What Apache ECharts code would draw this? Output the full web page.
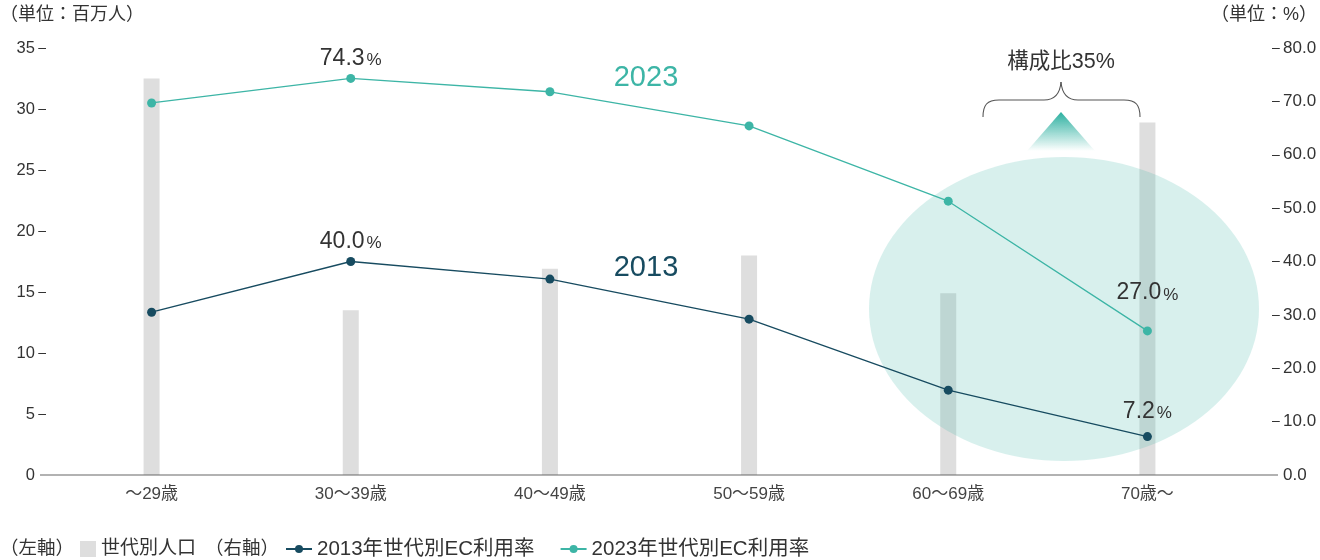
<!DOCTYPE html>
<html>
<head>
<meta charset="utf-8">
<script src="https://cdn.jsdelivr.net/npm/echarts@6/dist/echarts.min.js"></script>
<style>
  html, body { margin: 0; padding: 0; background: #fff; }
  #chart { width: 1320px; height: 560px; }
</style>
</head>
<body>
<div id="chart"></div>
<script>
// Age groups on the x axis
const categories = ['～29歳', '30～39歳', '40～49歳', '50～59歳', '60～69歳', '70歳～'];
// Population by age group (millions, left axis)
const population = [32.5, 13.5, 16.9, 18.0, 14.9, 28.9];
// EC usage rate by age group (%, right axis)
const ec2013 = [30.5, 40.0, 36.7, 29.2, 15.9, 7.2];
const ec2023 = [69.7, 74.3, 71.8, 65.4, 51.3, 27.0];
// Axis ticks
const leftTicks = { min: 0, max: 35, interval: 5 };
const rightTicks = { min: 0, max: 80, interval: 10 };
// Points whose values are written on the chart
const labelled = [1, 5];

const FONT = '"Liberation Sans", "Noto Sans CJK JP", sans-serif';
const TEXT = '#333';
const C2013 = '#174b60';
const C2023 = '#3db5a6';
const BAR = '#dedede';
const LEGEND_Y = 549;

const chart = echarts.init(document.getElementById('chart'), null, { renderer: 'canvas' });

function valueRich() {
  return {
    n: { fontSize: 23, color: TEXT, fontFamily: FONT },
    p: { fontSize: 17, color: TEXT, fontFamily: FONT, padding: [4, 0, 0, 2] }
  };
}

function lineData(values, distances) {
  return values.map((v, i) => {
    const item = { value: v };
    if (labelled.includes(i)) {
      item.label = {
        show: true,
        position: 'top',
        distance: distances[labelled.indexOf(i)],
        formatter: p => `{n|${p.value.toFixed(1)}}{p|%}`,
        rich: valueRich()
      };
    }
    return item;
  });
}

// curly brace drawn from curves and straight pieces
const BRACE = { stroke: '#555', lineWidth: 1.1, fill: null };
function braceParts() {
  return [
    { type: 'bezierCurve', z: 3, shape: { x1: 983, y1: 117, cpx1: 983, cpy1: 105, cpx2: 987, cpy2: 100, x2: 999, y2: 100 }, style: BRACE },
    { type: 'line', z: 3, shape: { x1: 999, y1: 100, x2: 1044, y2: 100 }, style: BRACE },
    { type: 'bezierCurve', z: 3, shape: { x1: 1044, y1: 100, cpx1: 1055, cpy1: 100, cpx2: 1060, cpy2: 94, x2: 1061, y2: 82 }, style: BRACE },
    { type: 'bezierCurve', z: 3, shape: { x1: 1061, y1: 82, cpx1: 1062, cpy1: 94, cpx2: 1067, cpy2: 100, x2: 1078, y2: 100 }, style: BRACE },
    { type: 'line', z: 3, shape: { x1: 1078, y1: 100, x2: 1124, y2: 100 }, style: BRACE },
    { type: 'bezierCurve', z: 3, shape: { x1: 1124, y1: 100, cpx1: 1136, cpy1: 100, cpx2: 1140, cpy2: 105, x2: 1140, y2: 117 }, style: BRACE }
  ];
}

const option = {
  animation: false,
  textStyle: { fontFamily: FONT, color: TEXT },
  grid: { left: 52, right: 73, top: 48, bottom: 85 },
  xAxis: {
    type: 'category',
    data: categories,
    axisLine: { show: false },
    axisTick: { show: false },
    axisLabel: { color: '#444', fontSize: 17, margin: 11, fontFamily: FONT }
  },
  yAxis: [
    {
      type: 'value',
      min: leftTicks.min, max: leftTicks.max, interval: leftTicks.interval,
      axisLine: { show: false }, axisTick: { show: false }, splitLine: { show: false },
      axisLabel: {
        margin: 6,
        formatter: v => v === 0 ? `{z|0}` : `{v|${v}} {d|–}`,
        rich: {
          v: { fontSize: 16.5, color: TEXT, fontFamily: FONT },
          d: { fontSize: 14, color: TEXT, fontFamily: FONT },
          z: { fontSize: 16.5, color: TEXT, fontFamily: FONT, padding: [0, 11, 0, 0] }
        }
      }
    },
    {
      type: 'value',
      min: rightTicks.min, max: rightTicks.max, interval: rightTicks.interval,
      axisLine: { show: false }, axisTick: { show: false }, splitLine: { show: false },
      axisLabel: {
        margin: 25,
        formatter: v => v === 0 ? `{z|0.0}` : `{d|–} {v|${v.toFixed(1)}}`,
        rich: {
          v: { fontSize: 17, color: TEXT, fontFamily: FONT },
          d: { fontSize: 14, color: TEXT, fontFamily: FONT },
          z: { fontSize: 17, color: TEXT, fontFamily: FONT, padding: [0, 0, 0, 11] }
        }
      }
    }
  ],
  legend: [
    {
      data: ['世代別人口'],
      left: 80, top: LEGEND_Y - 11, padding: 0,
      icon: 'rect', itemWidth: 16, itemHeight: 16, itemGap: 8,
      textStyle: { fontSize: 19, color: TEXT, fontFamily: FONT, lineHeight: 22 }
    },
    {
      data: ['2013年世代別EC利用率', '2023年世代別EC利用率'],
      left: 285, top: LEGEND_Y - 11, padding: 0,
      itemWidth: 26, itemHeight: 10, itemGap: 25,
      textStyle: { fontSize: 20.5, color: TEXT, fontFamily: FONT, lineHeight: 22 }
    }
  ],
  series: [
    {
      name: '世代別人口',
      type: 'bar',
      yAxisIndex: 0,
      data: population,
      barWidth: 16,
      itemStyle: { color: BAR },
      z: 1
    },
    {
      name: '2013年世代別EC利用率',
      type: 'line',
      yAxisIndex: 1,
      data: lineData(ec2013, [4, 9]),
      symbol: 'circle', symbolSize: 9,
      lineStyle: { color: C2013, width: 1.3 },
      itemStyle: { color: C2013 },
      z: 5
    },
    {
      name: '2023年世代別EC利用率',
      type: 'line',
      yAxisIndex: 1,
      data: lineData(ec2023, [4, 22]),
      symbol: 'circle', symbolSize: 9,
      lineStyle: { color: C2023, width: 1.3 },
      itemStyle: { color: C2023 },
      z: 5
    }
  ],
  graphic: [
    // unit captions
    { type: 'text', left: 0, top: 6, style: { text: '（単位：百万人）', fontSize: 18, fill: TEXT, fontFamily: FONT } },
    { type: 'text', right: 3, top: 6, style: { text: '（単位：%）', fontSize: 18, fill: TEXT, fontFamily: FONT } },
    // baseline spanning both axes
    { type: 'line', shape: { x1: 40, y1: 475, x2: 1278, y2: 475 }, style: { stroke: '#666', lineWidth: 1.2 }, z: 4 },
    // highlight around the older age groups
    {
      type: 'ellipse', z: 3,
      shape: { cx: 1064, cy: 309, rx: 195, ry: 152 },
      style: { fill: 'rgba(72,186,170,0.21)' }
    },
    // pointer triangle
    {
      type: 'polygon', z: 3,
      shape: { points: [[1061, 112], [1027, 151], [1095, 151]] },
      style: {
        fill: new echarts.graphic.LinearGradient(0, 0, 0, 1, [
          { offset: 0, color: 'rgba(44,176,160,1)' },
          { offset: 1, color: 'rgba(44,176,160,0)' }
        ])
      }
    },
    ...braceParts(),
    {
      type: 'text', z: 6, x: 1061, y: 62,
      style: { text: '構成比35%', fontSize: 21.5, fill: TEXT, fontFamily: FONT, align: 'center', verticalAlign: 'middle' }
    },
    // series captions
    {
      type: 'text', z: 6, x: 646, y: 78,
      style: { text: '2023', fontSize: 29, fill: C2023, fontFamily: FONT, align: 'center', verticalAlign: 'middle' }
    },
    {
      type: 'text', z: 6, x: 646, y: 268,
      style: { text: '2013', fontSize: 29, fill: C2013, fontFamily: FONT, align: 'center', verticalAlign: 'middle' }
    },
    // legend axis notes
    { type: 'text', x: 0, y: LEGEND_Y, style: { text: '（左軸）', fontSize: 18.5, fill: TEXT, fontFamily: FONT, verticalAlign: 'middle' } },
    { type: 'text', x: 205, y: LEGEND_Y, style: { text: '（右軸）', fontSize: 18.5, fill: TEXT, fontFamily: FONT, verticalAlign: 'middle' } }
  ]
};

chart.setOption(option);
</script>
</body>
</html>
